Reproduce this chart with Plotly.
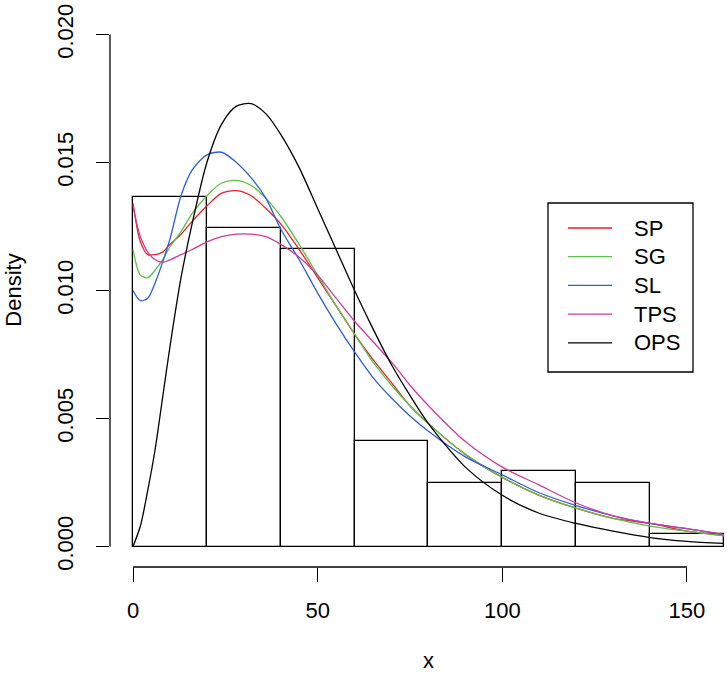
import plotly.graph_objects as go

# Histogram (density scale)
bin_edges = [0, 20, 40, 60, 80, 100, 120, 140, 160]
hist_density = [0.01364, 0.01243, 0.01163, 0.00414, 0.00247, 0.00294, 0.00247, 0.00047]

# Fitted density curves
curve_x = [0, 2, 4, 6, 8, 10, 13, 16, 20, 24, 28, 32, 36, 40, 45, 50, 55, 60, 65, 70,
           75, 80, 90, 100, 110, 120, 130, 140, 150, 160]
sp = [0.0134, 0.0119, 0.0114, 0.0114, 0.0115, 0.0118, 0.0122, 0.0127, 0.0133, 0.0138,
      0.0139, 0.0137, 0.0132, 0.0126, 0.0116, 0.0105, 0.0094, 0.0083, 0.0073, 0.0064,
      0.0055, 0.0048, 0.0036, 0.0027, 0.0020, 0.0015, 0.0011, 0.0009, 0.0006, 0.00043]
sg = [0.0116, 0.0106, 0.0105, 0.0108, 0.0112, 0.0117, 0.0123, 0.0130, 0.0137, 0.0142,
      0.0143, 0.0141, 0.0136, 0.0129, 0.0118, 0.0106, 0.0094, 0.0083, 0.0072, 0.0063,
      0.0055, 0.0048, 0.0036, 0.0027, 0.0020, 0.0015, 0.0011, 0.0008, 0.0006, 0.00042]
sl = [0.0100, 0.0096, 0.0097, 0.0103, 0.0111, 0.0120, 0.0137, 0.0147, 0.0153, 0.0154,
      0.0150, 0.0144, 0.0136, 0.0124, 0.0112, 0.0099, 0.0087, 0.0076, 0.0066, 0.0058,
      0.0051, 0.0045, 0.0035, 0.0028, 0.0021, 0.0016, 0.0012, 0.0009, 0.0007, 0.00046]
tps = [0.0133, 0.0121, 0.0115, 0.0112, 0.0111, 0.0112, 0.0114, 0.0116, 0.0119, 0.0121,
       0.0122, 0.0122, 0.0121, 0.0118, 0.0113, 0.0106, 0.0097, 0.0088, 0.0080, 0.0072,
       0.0063, 0.0055, 0.0041, 0.0031, 0.0024, 0.0017, 0.0012, 0.0009, 0.0007, 0.00047]
ops = [0.0000, 0.0008, 0.0022, 0.0038, 0.0058, 0.0078, 0.0105, 0.0126, 0.0150, 0.0165,
       0.0172, 0.0173, 0.0169, 0.0161, 0.0148, 0.0132, 0.0116, 0.0100, 0.0085, 0.0071,
       0.0059, 0.0048, 0.0031, 0.0020, 0.0013, 0.0009, 0.0006, 0.00035, 0.0002, 0.00012]

series_names = ["SP", "SG", "SL", "TPS", "OPS"]
series_vals = [sp, sg, sl, tps, ops]
series_colors = ["#E8202A", "#5DC04A", "#2F5FD0", "#CC3D9E", "#000000"]

x_ticks = [0, 50, 100, 150]
y_ticks = [0.000, 0.005, 0.010, 0.015, 0.020]
y_tick_labels = ["0.000", "0.005", "0.010", "0.015", "0.020"]

FONT = "Liberation Sans, Arial, sans-serif"

fig = go.Figure()

centers = [(a + b) / 2 for a, b in zip(bin_edges[:-1], bin_edges[1:])]
widths = [b - a for a, b in zip(bin_edges[:-1], bin_edges[1:])]
fig.add_trace(go.Bar(
    x=centers, y=hist_density, width=widths,
    marker=dict(color="rgba(0,0,0,0)", line=dict(color="black", width=1.3)),
    showlegend=False, hoverinfo="skip",
))

for name, vals, col in zip(series_names, series_vals, series_colors):
    fig.add_trace(go.Scatter(
        x=curve_x, y=vals, mode="lines", name=name, showlegend=False,
        line=dict(color=col, width=1.3, shape="spline", smoothing=0.8),
    ))

fig.update_layout(
    width=727, height=675,
    margin=dict(l=110, r=0, t=14, b=108),
    paper_bgcolor="white", plot_bgcolor="white",
    font=dict(family=FONT, size=22, color="black"),
    bargap=0,
    showlegend=False,
)

fig.update_xaxes(
    range=[-6.23, 160.85], showgrid=False, zeroline=False, showline=False,
    tickmode="array", tickvals=x_ticks, ticks="outside", ticklen=14,
    tickwidth=1.3, tickcolor="black", ticklabelstandoff=10,
)
fig.update_yaxes(
    range=[-0.0008, 0.0208], showgrid=False, zeroline=False, showline=False,
    tickmode="array", tickvals=y_ticks, ticktext=y_tick_labels,
    ticks="outside", ticklen=13, tickwidth=1.3, tickcolor="black",
    tickangle=-90, ticklabelstandoff=14,
)

# Axis lines spanning only the tick range (R style)
fig.add_shape(type="line", xref="x", yref="paper", x0=0, x1=150, y0=0, y1=0,
              line=dict(color="black", width=1.3))
fig.add_shape(type="line", xref="paper", yref="y", x0=0, x1=0, y0=0, y1=0.020,
              line=dict(color="black", width=1.3))

# Axis titles
fig.add_annotation(text="x", xref="x", yref="paper", x=80, y=-0.195,
                   showarrow=False, xanchor="center", yanchor="bottom",
                   font=dict(size=22))
fig.add_annotation(text="Density", xref="paper", yref="y", x=-0.157, y=0.010,
                   showarrow=False, xanchor="center", yanchor="middle",
                   textangle=-90, font=dict(size=22))

# Legend box (R style), placed in paper coordinates
leg_x0, leg_x1 = 0.7099, 0.9449
leg_y0, leg_y1 = 0.3526, 0.6582
fig.add_shape(type="rect", xref="paper", yref="paper",
              x0=leg_x0, x1=leg_x1, y0=leg_y0, y1=leg_y1,
              line=dict(color="black", width=1.3), fillcolor="white", layer="above")
row_top = 0.6130
row_step = 0.0519
for i, (name, col) in enumerate(zip(series_names, series_colors)):
    yy = row_top - i * row_step
    fig.add_shape(type="line", xref="paper", yref="paper",
                  x0=0.7423, x1=0.8136, y0=yy, y1=yy,
                  line=dict(color=col, width=1.3), layer="above")
    fig.add_annotation(text=name, xref="paper", yref="paper", x=0.8460, y=yy,
                       showarrow=False, xanchor="left", yanchor="middle",
                       font=dict(size=22))

fig.write_html("out.html")
